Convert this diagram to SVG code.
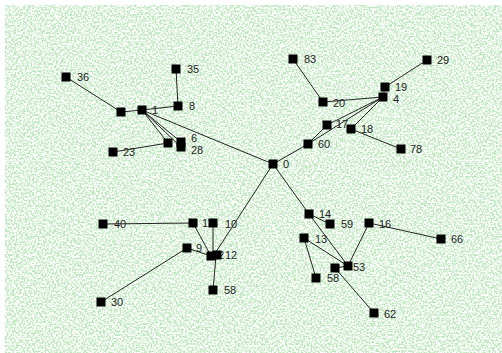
<svg xmlns="http://www.w3.org/2000/svg" width="502" height="353" viewBox="0 0 502 353">
<defs>
<filter id="noise" x="0" y="0" width="100%" height="100%" filterUnits="objectBoundingBox">
<feTurbulence type="fractalNoise" baseFrequency="0.55" numOctaves="2" seed="7" result="t"/>
<feColorMatrix in="t" type="matrix" values="0 0 0 0 0.5  0 0 0 0 0.8  0 0 0 0 0.5  4.5 0 0 0 -1.85"/>
</filter>
<style>
.n rect{fill:#000}
.n text{font-family:"Liberation Sans",Arial,sans-serif;font-size:11px;fill:#222}
#edges line{stroke:#222;stroke-width:1}
</style>
</defs>
<rect x="0" y="0" width="502" height="353" fill="#fff"/>
<rect x="5" y="5" width="497" height="348" fill="#fff" filter="url(#noise)"/>
<g id="edges">
<line x1="66" y1="77" x2="121" y2="112"/>
<line x1="121" y1="112" x2="142" y2="110"/>
<line x1="142" y1="110" x2="178" y2="106"/>
<line x1="178" y1="106" x2="176" y2="69"/>
<line x1="142" y1="110" x2="273" y2="164"/>
<line x1="142" y1="110" x2="168" y2="143"/>
<line x1="142" y1="110" x2="181" y2="142"/>
<line x1="142" y1="110" x2="181" y2="147"/>
<line x1="113" y1="152" x2="168" y2="143"/>
<line x1="273" y1="164" x2="308" y2="144"/>
<line x1="308" y1="144" x2="327" y2="125"/>
<line x1="308" y1="144" x2="383" y2="97"/>
<line x1="327" y1="125" x2="383" y2="97"/>
<line x1="383" y1="97" x2="351" y2="129"/>
<line x1="351" y1="129" x2="401" y2="149"/>
<line x1="383" y1="97" x2="323" y2="102"/>
<line x1="323" y1="102" x2="293" y2="59"/>
<line x1="383" y1="97" x2="385" y2="87"/>
<line x1="385" y1="87" x2="427" y2="60"/>
<line x1="273" y1="164" x2="309" y2="214"/>
<line x1="309" y1="214" x2="348" y2="266"/>
<line x1="309" y1="214" x2="330" y2="224"/>
<line x1="304" y1="238" x2="348" y2="266"/>
<line x1="304" y1="238" x2="316" y2="278"/>
<line x1="369" y1="223" x2="348" y2="266"/>
<line x1="369" y1="223" x2="441" y2="239"/>
<line x1="348" y1="266" x2="335" y2="268"/>
<line x1="335" y1="268" x2="374" y2="313"/>
<line x1="273" y1="164" x2="214" y2="255"/>
<line x1="103" y1="224" x2="193" y2="223"/>
<line x1="193" y1="223" x2="211" y2="256"/>
<line x1="213" y1="223" x2="213" y2="255"/>
<line x1="187" y1="248" x2="211" y2="256"/>
<line x1="101" y1="302" x2="187" y2="248"/>
<line x1="213" y1="290" x2="216" y2="256"/>
</g>
<g id="n7" class="n"><rect x="116.5" y="107.5" width="9" height="9"/></g>
<g id="n1" class="n"><text x="152" y="114">1</text><rect x="137.5" y="105.5" width="9" height="9"/></g>
<g id="n36" class="n"><rect x="61.5" y="72.5" width="9" height="9"/><text x="77" y="81">36</text></g>
<g id="n35" class="n"><rect x="171.5" y="64.5" width="9" height="9"/><text x="187" y="73">35</text></g>
<g id="n8" class="n"><rect x="173.5" y="101.5" width="9" height="9"/><text x="189" y="110">8</text></g>
<g id="nA" class="n"><rect x="163.5" y="138.5" width="9" height="9"/></g>
<g id="n6" class="n"><rect x="176.5" y="137.5" width="9" height="9"/><text x="191" y="142" font-size="9">6</text></g>
<g id="n28" class="n"><rect x="176.5" y="142.5" width="9" height="9"/><text x="191" y="154">28</text></g>
<g id="n23" class="n"><rect x="108.5" y="147.5" width="9" height="9"/><text x="123" y="156">23</text></g>
<g id="n0" class="n"><rect x="268.5" y="159.5" width="9" height="9"/><text x="283" y="168">0</text></g>
<g id="n83" class="n"><rect x="288.5" y="54.5" width="9" height="9"/><text x="304" y="63">83</text></g>
<g id="n20" class="n"><rect x="318.5" y="97.5" width="9" height="9"/><text x="333" y="107">20</text></g>
<g id="n4" class="n"><rect x="378.5" y="92.5" width="9" height="9"/><text x="393" y="103">4</text></g>
<g id="n19" class="n"><rect x="380.5" y="82.5" width="9" height="9"/><text x="395" y="91">19</text></g>
<g id="n29" class="n"><rect x="422.5" y="55.5" width="9" height="9"/><text x="437" y="64">29</text></g>
<g id="n17" class="n"><text x="336" y="128">17</text><rect x="322.5" y="120.5" width="9" height="9"/></g>
<g id="n18" class="n"><rect x="346.5" y="124.5" width="9" height="9"/><text x="361" y="133">18</text></g>
<g id="n78" class="n"><rect x="396.5" y="144.5" width="9" height="9"/><text x="410" y="153">78</text></g>
<g id="n60" class="n"><rect x="303.5" y="139.5" width="9" height="9"/><text x="318" y="148">60</text></g>
<g id="n14" class="n"><rect x="304.5" y="209.5" width="9" height="9"/><text x="319" y="218">14</text></g>
<g id="n59" class="n"><rect x="325.5" y="219.5" width="9" height="9"/><text x="341" y="228">59</text></g>
<g id="n16" class="n"><rect x="364.5" y="218.5" width="9" height="9"/><text x="379" y="228">16</text></g>
<g id="n66" class="n"><rect x="436.5" y="234.5" width="9" height="9"/><text x="451" y="243">66</text></g>
<g id="n13" class="n"><rect x="299.5" y="233.5" width="9" height="9"/><text x="315" y="243">13</text></g>
<g id="n55" class="n"><rect x="330.5" y="263.5" width="9" height="9"/></g>
<g id="n53" class="n"><text x="353" y="271">53</text><rect x="343.5" y="261.5" width="9" height="9"/></g>
<g id="n58b" class="n"><rect x="311.5" y="273.5" width="9" height="9"/><text x="327" y="282">58</text></g>
<g id="n62" class="n"><rect x="369.5" y="308.5" width="9" height="9"/><text x="384" y="318">62</text></g>
<g id="n40" class="n"><rect x="98.5" y="219.5" width="9" height="9"/><text x="114" y="228">40</text></g>
<g id="n11" class="n"><text x="202" y="227">11</text><rect x="188.5" y="218.5" width="9" height="9"/></g>
<g id="n10" class="n"><rect x="208.5" y="218.5" width="9" height="9"/><text x="225" y="228">10</text></g>
<g id="n9" class="n"><rect x="182.5" y="243.5" width="9" height="9"/><text x="196" y="252">9</text></g>
<g id="n2" class="n"><text x="218" y="259">2</text><rect x="206.5" y="251.5" width="9" height="9"/></g>
<g id="n12" class="n"><rect x="212.5" y="250.5" width="9" height="9"/><text x="225" y="259">12</text></g>
<g id="n58" class="n"><rect x="208.5" y="285.5" width="9" height="9"/><text x="224" y="294">58</text></g>
<g id="n30" class="n"><rect x="96.5" y="297.5" width="9" height="9"/><text x="111" y="306">30</text></g>
</svg>
